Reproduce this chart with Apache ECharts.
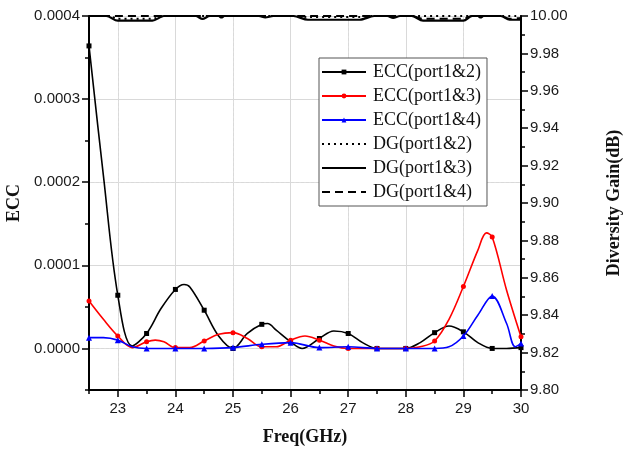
<!DOCTYPE html>
<html>
<head>
<meta charset="utf-8">
<script src="https://cdn.jsdelivr.net/npm/echarts@6/dist/echarts.min.js"></script>
<style>
  html, body { margin: 0; padding: 0; background: #fff; }
  #chart { width: 627px; height: 454px; }
</style>
</head>
<body>
<div id="chart"></div>
<script>
// ECC curves, [freq GHz, ECC]
const ecc12 = [
  [22.5, 0.000364], [22.75, 0.000208], [23, 0.000064], [23.25, 0.000003], [23.5, 0.000018],
  [23.75, 0.000048], [24, 0.000071], [24.15, 0.000077], [24.25, 0.000074], [24.5, 0.000046],
  [24.75, 0.000015], [25, 0.0], [25.25, 0.000018], [25.5, 0.000029], [25.6, 0.000030],
  [25.75, 0.000022], [26, 0.000008], [26.2, 0.0], [26.5, 0.000012], [26.75, 0.000021],
  [27, 0.000018], [27.25, 0.000007], [27.5, 0.0], [27.75, 0.0], [28, 0.0],
  [28.25, 0.000007], [28.5, 0.000019], [28.75, 0.000027], [29, 0.000020], [29.25, 0.000007],
  [29.5, 0.0], [29.75, 0.0], [30, 0.000001]
];
const ecc13 = [
  [22.5, 0.000057], [22.75, 0.000035], [23, 0.000015], [23.25, 0.000001], [23.5, 0.000008],
  [23.65, 0.000010], [23.8, 0.000008], [24, 0.000001], [24.25, 0.000001], [24.5, 0.000009],
  [24.75, 0.000017], [25, 0.000019], [25.25, 0.000012], [25.5, 0.000002], [25.75, 0.000002],
  [26, 0.000010], [26.25, 0.000015], [26.5, 0.000010], [26.75, 0.000003], [27, 0.0],
  [27.5, 0.0], [28, 0.0], [28.25, 0.000002], [28.5, 0.000009], [28.75, 0.000035],
  [29, 0.0000745], [29.25, 0.000118], [29.4, 0.000139], [29.5, 0.000134], [29.75, 0.000070],
  [30, 0.000014]
];
const ecc14 = [
  [22.5, 0.000013], [22.75, 0.000013], [23, 0.000010], [23.25, 0.000002], [23.5, 0.0],
  [24, 0.0], [24.5, 0.0], [25, 0.000001], [25.5, 0.000005], [26, 0.000007],
  [26.5, 0.000001], [27, 0.000002], [27.5, 0.0], [28, 0.0], [28.5, 0.0],
  [28.75, 0.000002], [29, 0.000015], [29.25, 0.000040], [29.5, 0.000063], [29.75, 0.000030],
  [29.9, 0.000002], [30, 0.000006]
];

// diversity gain, [freq GHz, dB]
const dg12 = [
  [22.5, 10.0], [22.85, 10.0], [23.0, 9.9985], [23.6, 9.9985], [23.8, 10.0],
  [26.1, 10.0], [26.3, 9.9995], [27.2, 9.9995], [27.4, 10.0], [30, 10.0]
];
const dg13 = [
  [22.5, 10.0], [22.8, 10.0], [23.0, 9.9975], [23.6, 9.9975], [23.8, 10.0],
  [24.35, 10.0], [24.47, 9.9985], [24.6, 10.0], [24.75, 10.0], [24.8, 9.9992],
  [24.85, 10.0], [25.45, 10.0], [25.56, 9.9992], [25.7, 10.0], [26.05, 10.0],
  [26.3, 9.998], [27.2, 9.998], [27.45, 10.0], [27.68, 10.0], [27.78, 9.999],
  [27.9, 10.0], [28.1, 10.0], [28.3, 9.9975], [29.0, 9.9975], [29.15, 10.0],
  [29.25, 10.0], [29.3, 9.9992], [29.35, 10.0], [29.65, 10.0], [29.8, 9.998], [30, 9.998]
];
const dg14 = [
  [22.5, 10.0], [28.1, 10.0], [28.3, 9.9985], [29.0, 9.9985], [29.15, 10.0],
  [29.65, 10.0], [29.8, 9.9985], [30, 9.999]
];

const freqTicks = [23, 24, 25, 26, 27, 28, 29, 30];
const eccTicks = [0, 0.0001, 0.0002, 0.0003, 0.0004];
const dgTicks = [9.80, 9.82, 9.84, 9.86, 9.88, 9.90, 9.92, 9.94, 9.96, 9.98, 10.00];

const labelFont = { color: '#1a1a1a', fontSize: 15, fontFamily: 'Liberation Sans' };
const nameFont = { color: '#111', fontSize: 18, fontWeight: 'bold', fontFamily: 'Liberation Serif' };
const gridSolid = '#d9d9d9';
const gridDot = '#dedede';
const clear = 'rgba(0,0,0,0)';

// only every 0.5 GHz sample carries a marker
const withMarks = (pts) => pts.map(p => {
  const onHalf = Math.abs(p[0] * 2 - Math.round(p[0] * 2)) < 1e-6;
  return onHalf ? { value: p } : { value: p, symbol: 'none' };
});

const isMultiple = (v, step) => Math.abs(v / step - Math.round(v / step)) < 1e-6;

const chart = echarts.init(document.getElementById('chart'));

const noMark = { opacity: 0 };

const option = {
  backgroundColor: '#fff',
  animation: false,
  grid: { left: 89, right: 106, top: 16, bottom: 64, outerBoundsMode: 'none', containLabel: false },
  legend: {
    orient: 'vertical',
    left: 319,
    top: 58,
    padding: [5, 6, 5, 2],
    itemGap: 6,
    itemWidth: 44,
    itemHeight: 6,
    backgroundColor: '#fff',
    borderColor: '#555',
    borderWidth: 1,
    borderRadius: 0,
    textStyle: { color: '#111', fontSize: 18, lineHeight: 18, fontFamily: 'Liberation Serif', padding: [0, 0, 0, 2] },
    data: [
      'ECC(port1&2)', 'ECC(port1&3)', 'ECC(port1&4)',
      { name: 'DG(port1&2)', itemStyle: noMark },
      { name: 'DG(port1&3)', itemStyle: noMark },
      { name: 'DG(port1&4)', itemStyle: noMark }
    ]
  },
  xAxis: [
    {
      type: 'value',
      min: 22.5,
      max: 30,
      interval: 0.5,
      name: 'Freq(GHz)',
      nameLocation: 'middle',
      nameGap: 38,
      nameTextStyle: nameFont,
      axisLine: { onZero: false, lineStyle: { color: '#000', width: 2 } },
      axisTick: { length: 4, lineStyle: { color: '#000', width: 1.5 } },
      axisLabel: Object.assign({
        margin: 11,
        formatter: v => (isMultiple(v, 1) ? String(v) : '')
      }, labelFont),
      splitLine: { show: true, lineStyle: { color: [clear, gridSolid], width: 1 } }
    },
    {
      type: 'value',
      position: 'bottom',
      min: 22.5,
      max: 30,
      interval: 0.5,
      axisLine: { show: false, onZero: false },
      axisTick: { show: true, length: 7, customValues: freqTicks, lineStyle: { color: '#000', width: 1.5 } },
      axisLabel: { show: false },
      splitLine: { show: true, lineStyle: { color: [gridDot, clear], type: [2, 3], width: 1 } }
    }
  ],
  yAxis: [
    {
      type: 'value',
      position: 'left',
      min: -0.00005,
      max: 0.0004,
      interval: 0.00005,
      name: 'ECC',
      nameLocation: 'middle',
      nameGap: 61,
      nameRotate: 90,
      nameTextStyle: nameFont,
      axisLine: { show: true, onZero: false, lineStyle: { color: '#000', width: 2 } },
      axisTick: { show: true, length: 4, lineStyle: { color: '#000', width: 1.5 } },
      axisLabel: Object.assign({
        margin: 9,
        formatter: v => (isMultiple(v, 0.0001) ? Math.abs(v).toFixed(4) : '')
      }, labelFont),
      splitLine: { show: true, lineStyle: { color: [clear, gridSolid], width: 1 } }
    },
    {
      type: 'value',
      position: 'right',
      min: 9.80,
      max: 10.00,
      interval: 0.01,
      name: 'Diversity Gain(dB)',
      nameLocation: 'middle',
      nameGap: 84,
      nameRotate: 90,
      nameTextStyle: nameFont,
      axisLine: { show: true, onZero: false, lineStyle: { color: '#000', width: 2 } },
      axisTick: { show: true, length: 4, lineStyle: { color: '#000', width: 1.5 } },
      axisLabel: Object.assign({
        margin: 9,
        formatter: v => (isMultiple(v, 0.02) ? v.toFixed(2) : '')
      }, labelFont),
      splitLine: { show: false }
    },
    {
      type: 'value',
      position: 'left',
      min: -0.00005,
      max: 0.0004,
      interval: 0.00005,
      axisLine: { show: false, onZero: false },
      axisTick: { show: true, length: 7, customValues: eccTicks, lineStyle: { color: '#000', width: 1.5 } },
      axisLabel: { show: false },
      splitLine: { show: true, lineStyle: { color: [gridDot, clear], type: [2, 3], width: 1 } }
    },
    {
      type: 'value',
      position: 'right',
      min: 9.80,
      max: 10.00,
      interval: 0.01,
      axisLine: { show: false, onZero: false },
      axisTick: { show: true, length: 7, customValues: dgTicks, lineStyle: { color: '#000', width: 1.5 } },
      axisLabel: { show: false },
      splitLine: { show: false }
    }
  ],
  series: [
    {
      name: 'ECC(port1&2)', type: 'line', yAxisIndex: 0, smooth: 0.35,
      data: withMarks(ecc12),
      symbol: 'rect', symbolSize: 5,
      lineStyle: { color: '#000', width: 1.6 }, itemStyle: { color: '#000' }, z: 4
    },
    {
      name: 'ECC(port1&3)', type: 'line', yAxisIndex: 0, smooth: 0.35,
      data: withMarks(ecc13),
      symbol: 'circle', symbolSize: 5,
      lineStyle: { color: '#ff0000', width: 1.6 }, itemStyle: { color: '#ff0000' }, z: 5
    },
    {
      name: 'ECC(port1&4)', type: 'line', yAxisIndex: 0, smooth: 0.35,
      data: withMarks(ecc14),
      symbol: 'triangle', symbolSize: 6,
      lineStyle: { color: '#0000ff', width: 1.6 }, itemStyle: { color: '#0000ff' }, z: 6
    },
    {
      name: 'DG(port1&2)', type: 'line', yAxisIndex: 1, smooth: 0.3, clip: false,
      data: dg12, symbol: 'none',
      lineStyle: { color: '#000', width: 2, type: [2, 4] }, itemStyle: { color: '#000' }
    },
    {
      name: 'DG(port1&3)', type: 'line', yAxisIndex: 1, smooth: 0.3, clip: false,
      data: dg13, symbol: 'none',
      lineStyle: { color: '#000', width: 2.2 }, itemStyle: { color: '#000' }
    },
    {
      name: 'DG(port1&4)', type: 'line', yAxisIndex: 1, smooth: 0.3, clip: false,
      data: dg14, symbol: 'none',
      lineStyle: { color: '#000', width: 2, type: [8, 5] }, itemStyle: { color: '#000' }
    }
  ]
};

chart.setOption(option);
</script>
</body>
</html>
